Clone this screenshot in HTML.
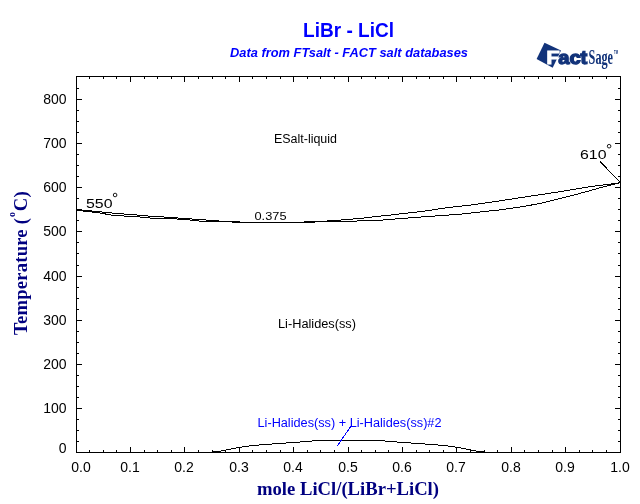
<!DOCTYPE html>
<html lang="en"><head><meta charset="utf-8"><title>LiBr - LiCl</title>
<style>html,body{margin:0;padding:0;background:#fff;}body{width:640px;height:504px;overflow:hidden;}svg{display:block;will-change:transform;}.a{font-family:"Liberation Sans",Arial,sans-serif;}.s{font-family:"Liberation Serif","Times New Roman",serif;}</style></head><body>
<svg width="640" height="504" viewBox="0 0 640 504">
<rect width="640" height="504" fill="#fff"/>
<g stroke="#000" stroke-width="1" fill="none" shape-rendering="crispEdges">
<rect x="76.5" y="76.5" width="544.0" height="376.0"/>
<path d="M89.5 452.5v-2.5M89.5 76.5v2.5M103.5 452.5v-2.5M103.5 76.5v2.5M116.5 452.5v-2.5M116.5 76.5v2.5M130.5 452.5v-5.5M130.5 76.5v5.5M144.5 452.5v-2.5M144.5 76.5v2.5M157.5 452.5v-2.5M157.5 76.5v2.5M171.5 452.5v-2.5M171.5 76.5v2.5M184.5 452.5v-5.5M184.5 76.5v5.5M198.5 452.5v-2.5M198.5 76.5v2.5M212.5 452.5v-2.5M212.5 76.5v2.5M225.5 452.5v-2.5M225.5 76.5v2.5M239.5 452.5v-5.5M239.5 76.5v5.5M252.5 452.5v-2.5M252.5 76.5v2.5M266.5 452.5v-2.5M266.5 76.5v2.5M280.5 452.5v-2.5M280.5 76.5v2.5M293.5 452.5v-5.5M293.5 76.5v5.5M307.5 452.5v-2.5M307.5 76.5v2.5M320.5 452.5v-2.5M320.5 76.5v2.5M334.5 452.5v-2.5M334.5 76.5v2.5M348.5 452.5v-5.5M348.5 76.5v5.5M361.5 452.5v-2.5M361.5 76.5v2.5M375.5 452.5v-2.5M375.5 76.5v2.5M388.5 452.5v-2.5M388.5 76.5v2.5M402.5 452.5v-5.5M402.5 76.5v5.5M416.5 452.5v-2.5M416.5 76.5v2.5M429.5 452.5v-2.5M429.5 76.5v2.5M443.5 452.5v-2.5M443.5 76.5v2.5M456.5 452.5v-5.5M456.5 76.5v5.5M470.5 452.5v-2.5M470.5 76.5v2.5M484.5 452.5v-2.5M484.5 76.5v2.5M497.5 452.5v-2.5M497.5 76.5v2.5M511.5 452.5v-5.5M511.5 76.5v5.5M524.5 452.5v-2.5M524.5 76.5v2.5M538.5 452.5v-2.5M538.5 76.5v2.5M552.5 452.5v-2.5M552.5 76.5v2.5M565.5 452.5v-5.5M565.5 76.5v5.5M579.5 452.5v-2.5M579.5 76.5v2.5M592.5 452.5v-2.5M592.5 76.5v2.5M606.5 452.5v-2.5M606.5 76.5v2.5M76.5 441.5h2.5M620.5 441.5h-2.5M76.5 430.5h2.5M620.5 430.5h-2.5M76.5 419.5h2.5M620.5 419.5h-2.5M76.5 408.5h5.5M620.5 408.5h-5.5M76.5 397.5h2.5M620.5 397.5h-2.5M76.5 386.5h2.5M620.5 386.5h-2.5M76.5 375.5h2.5M620.5 375.5h-2.5M76.5 364.5h5.5M620.5 364.5h-5.5M76.5 353.5h2.5M620.5 353.5h-2.5M76.5 342.5h2.5M620.5 342.5h-2.5M76.5 331.5h2.5M620.5 331.5h-2.5M76.5 320.5h5.5M620.5 320.5h-5.5M76.5 309.5h2.5M620.5 309.5h-2.5M76.5 298.5h2.5M620.5 298.5h-2.5M76.5 287.5h2.5M620.5 287.5h-2.5M76.5 276.5h5.5M620.5 276.5h-5.5M76.5 265.5h2.5M620.5 265.5h-2.5M76.5 253.5h2.5M620.5 253.5h-2.5M76.5 242.5h2.5M620.5 242.5h-2.5M76.5 231.5h5.5M620.5 231.5h-5.5M76.5 220.5h2.5M620.5 220.5h-2.5M76.5 209.5h2.5M620.5 209.5h-2.5M76.5 198.5h2.5M620.5 198.5h-2.5M76.5 187.5h5.5M620.5 187.5h-5.5M76.5 176.5h2.5M620.5 176.5h-2.5M76.5 165.5h2.5M620.5 165.5h-2.5M76.5 154.5h2.5M620.5 154.5h-2.5M76.5 143.5h5.5M620.5 143.5h-5.5M76.5 132.5h2.5M620.5 132.5h-2.5M76.5 121.5h2.5M620.5 121.5h-2.5M76.5 110.5h2.5M620.5 110.5h-2.5M76.5 99.5h5.5M620.5 99.5h-5.5M76.5 88.5h2.5M620.5 88.5h-2.5"/>
</g>
<g stroke="#000" stroke-width="1" fill="none" shape-rendering="crispEdges">
<polyline points="76.5,209.5 100,211.8 111.5,213 124,214 136.5,215 150,216.2 157,216.5 171,217.5 185,218.5 199,219.5 212,220.5 225,221.5 245,222.2 272,222.5 300,222.3 306,221.9 320,221.5 334,220.5 347.5,219.5 359.5,218.5 368,217.5 375.5,216.5 386.6,215.5 395,214.5 403,213.5 413,212.5 421.6,211.5 428.7,210.5 435,209.5 441.6,208.5 448.5,207.5 457,206.5 467,205.5 475,204.5 481.6,203.5 488.5,202.5 495.5,201.5 502,200.5 508.75,199.5 515,198.5 521.6,197.5 528,196.5 558,192 588,187 620.5,182.7"/>
<polyline points="76.5,210.3 90,211.8 100,213 111.5,215.1 124,216 136.5,216.7 150,218 157,218.5 171,218.6 185,219.5 199,221 212,221.5 225,221.8 245,222.4 272,222.6 300,222.6 306,222.5 320,221.7 334,221.5 347.5,221.5 367,220.5 378.5,220.5 388,219.5 401.5,218.5 415,217.5 428,216.5 441.8,215.5 457,214.5 467.3,213.5 475.7,212.5 484,211.5 494.5,210.5 503,209.5 509.6,208.5 516.4,207.5 523,206.5 529,205.5 543,202.75 558,199 573,195.25 588,191.2 603,187 620.5,182.7"/>
<polyline points="212.5,452 220,451.3 227,449.9 236.25,448 242.5,447 249.5,446 258.75,445 266,444.4 279.5,443.5 293,442.5 306.5,441.5 316,440.6 348.5,440.5 381,440.6 390.5,441.5 404,442.5 417.5,443.5 431,444.4 438.25,445 447.5,446 454.5,447 460.75,448 470,449.9 477,451.3 484.5,452"/>
<line x1="600" y1="161.5" x2="619.7" y2="181.8"/>
<line x1="351" y1="426" x2="337.3" y2="446" stroke="#0000ff"/>
</g>
<g class="a" font-size="14" fill="#000">
<text x="66.6" y="453.1" text-anchor="end">0</text>
<text x="66.6" y="413.1" text-anchor="end">100</text>
<text x="66.6" y="369.1" text-anchor="end">200</text>
<text x="66.6" y="325.1" text-anchor="end">300</text>
<text x="66.6" y="281.1" text-anchor="end">400</text>
<text x="66.6" y="236.1" text-anchor="end">500</text>
<text x="66.6" y="192.1" text-anchor="end">600</text>
<text x="66.6" y="148.1" text-anchor="end">700</text>
<text x="66.6" y="104.1" text-anchor="end">800</text>
<text x="81.0" y="472" text-anchor="middle">0.0</text>
<text x="130.0" y="472" text-anchor="middle">0.1</text>
<text x="184.0" y="472" text-anchor="middle">0.2</text>
<text x="239.0" y="472" text-anchor="middle">0.3</text>
<text x="293.0" y="472" text-anchor="middle">0.4</text>
<text x="348.0" y="472" text-anchor="middle">0.5</text>
<text x="402.0" y="472" text-anchor="middle">0.6</text>
<text x="456.0" y="472" text-anchor="middle">0.7</text>
<text x="511.0" y="472" text-anchor="middle">0.8</text>
<text x="565.0" y="472" text-anchor="middle">0.9</text>
<text x="620.0" y="472" text-anchor="middle">1.0</text>
</g>
<g class="a" font-size="12" fill="#000">
<text x="274" y="143" textLength="63" lengthAdjust="spacingAndGlyphs">ESalt-liquid</text>
<text x="278" y="328" textLength="78" lengthAdjust="spacingAndGlyphs">Li-Halides(ss)</text>
</g>
<text class="a" font-size="12" fill="#0000ff" x="257.5" y="426.5" textLength="184" lengthAdjust="spacingAndGlyphs">Li-Halides(ss) + Li-Halides(ss)#2</text>
<text class="a" font-size="10.7" fill="#000" x="254.5" y="220" textLength="32" lengthAdjust="spacingAndGlyphs">0.375</text>
<text class="a" font-size="13.7" fill="#000" x="86" y="208" textLength="26.5" lengthAdjust="spacingAndGlyphs">550</text>
<circle cx="115.1" cy="195" r="1.8" fill="none" stroke="#000" stroke-width="0.9"/>
<text class="a" font-size="13.7" fill="#000" x="580" y="159" textLength="26.5" lengthAdjust="spacingAndGlyphs">610</text>
<circle cx="609.1" cy="146.2" r="1.8" fill="none" stroke="#000" stroke-width="0.9"/>
<text class="a" font-size="19.3" font-weight="bold" fill="#0000ff" x="303" y="37" textLength="91" lengthAdjust="spacingAndGlyphs">LiBr - LiCl</text>
<text class="a" font-size="12" font-weight="bold" font-style="italic" fill="#0000ff" x="230" y="57" textLength="238" lengthAdjust="spacingAndGlyphs">Data from FTsalt - FACT salt databases</text>
<text class="s" font-size="18.67" font-weight="bold" fill="#000080" x="257" y="495" textLength="182" lengthAdjust="spacingAndGlyphs">mole LiCl/(LiBr+LiCl)</text>
<text class="s" font-size="18.67" font-weight="bold" fill="#000080" letter-spacing="0.2" transform="translate(27,335) rotate(-90)">Temperature (<tspan font-size="10" dy="-12" dx="1">o</tspan><tspan dy="12" dx="0.5">C)</tspan></text>
<g fill="#12337a">
<polygon points="544.5,42.8 561,50.5 552.7,67.7 536.6,58.9"/>
<text class="a" font-size="18.6" font-weight="bold" fill="#fff" stroke="#fff" stroke-width="0.8" transform="translate(546.3,63.6) scale(1.2,1)">F</text>
<text class="a" font-size="17.5" font-weight="bold" stroke="#12337a" stroke-width="1.3" x="0" y="0" transform="translate(558.2,63.8) scale(1.15,1)">act</text>
<text class="s" font-size="22" font-weight="bold" transform="translate(588.6,63.8) scale(0.555,1)">Sage</text>
<text class="a" font-size="5" font-weight="bold" x="614" y="54" textLength="4" lengthAdjust="spacingAndGlyphs">TM</text>
</g>
</svg></body></html>
